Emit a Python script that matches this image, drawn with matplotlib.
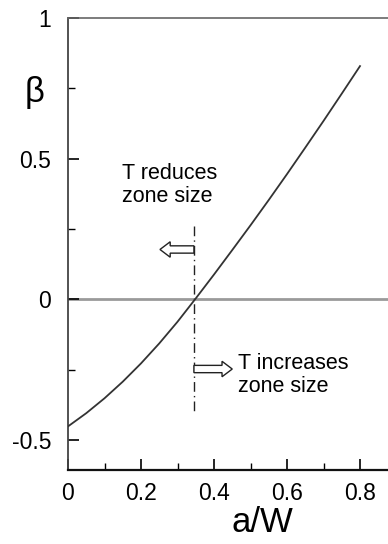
import matplotlib
matplotlib.use("Agg")
import matplotlib.pyplot as plt
from matplotlib.ticker import MultipleLocator

plt.rcParams['font.family'] = ['Liberation Sans', 'DejaVu Sans']

# beta vs a/W
aw = [0.0, 0.05, 0.1, 0.15, 0.2, 0.25, 0.3, 0.35, 0.4,
      0.45, 0.5, 0.55, 0.6, 0.65, 0.7, 0.75, 0.8]
beta = [-0.452, -0.405, -0.352, -0.293, -0.228, -0.157, -0.080, 0.003,
        0.088, 0.175, 0.263, 0.353, 0.445, 0.539, 0.634, 0.731, 0.829]

x_cross = 0.345          # where beta = 0
xticks = [0, 0.2, 0.4, 0.6, 0.8]
xtick_labels = ["0", "0.2", "0.4", "0.6", "0.8"]
yticks = [-0.5, 0, 0.5, 1]
ytick_labels = ["-0.5", "0", "0.5", "1"]

fig = plt.figure(figsize=(3.88, 5.44), dpi=100)
ax = fig.add_axes([68 / 388, 74 / 544, 0.9 * 365 / 388, 452 / 544])

ax.axhline(0, color="#9a9a9a", lw=2, zorder=1)
ax.plot(aw, beta, color="#333333", lw=1.3, zorder=3)

# dash-dot marker at the zero crossing
ax.plot([x_cross, x_cross], [0.26, -0.40], color="#222222", lw=1,
        linestyle=(0, (7, 3, 1, 3)), zorder=2)

# hollow arrows
ax.arrow(x_cross, 0.177, -0.093, 0, width=0.026, head_width=0.055,
         head_length=0.028, length_includes_head=True, fc="white",
         ec="#222222", lw=1, zorder=4)
ax.arrow(x_cross, -0.248, 0.105, 0, width=0.026, head_width=0.055,
         head_length=0.028, length_includes_head=True, fc="white",
         ec="#222222", lw=1, zorder=4)

ax.text(0.148, 0.485, "T reduces\nzone size", fontsize=15.5, va="top",
        ha="left", linespacing=1.15)
ax.text(0.465, -0.19, "T increases\nzone size", fontsize=15.5, va="top",
        ha="left", linespacing=1.15)

ax.set_xlim(0, 0.9)
ax.set_ylim(-0.607, 1.0)
ax.set_xticks(xticks)
ax.set_xticklabels(xtick_labels)
ax.set_yticks(yticks)
ax.set_yticklabels(ytick_labels)
ax.xaxis.set_minor_locator(MultipleLocator(0.1))
ax.yaxis.set_minor_locator(MultipleLocator(0.25))
ax.tick_params(which="major", direction="in", length=8, width=1.2,
               labelsize=16.5, pad=9)
ax.tick_params(which="minor", direction="in", length=5, width=1.0)
ax.tick_params(axis="y", which="major", pad=12)
ax.tick_params(top=False, right=False, which="both")

ax.spines["right"].set_visible(False)
ax.spines["top"].set_color("#666666")
ax.spines["top"].set_linewidth(1.2)
ax.spines["left"].set_color("#444444")
ax.spines["left"].set_linewidth(1.3)
ax.spines["bottom"].set_color("#111111")
ax.spines["bottom"].set_linewidth(1.6)

fig.text(35 / 388, 1 - 92 / 544, "β", fontsize=25, ha="center", va="center")
fig.text(262 / 388, 1 - 522 / 544, "a/W", fontsize=25, ha="center",
         va="center")

fig.savefig("out.png", dpi=100)
